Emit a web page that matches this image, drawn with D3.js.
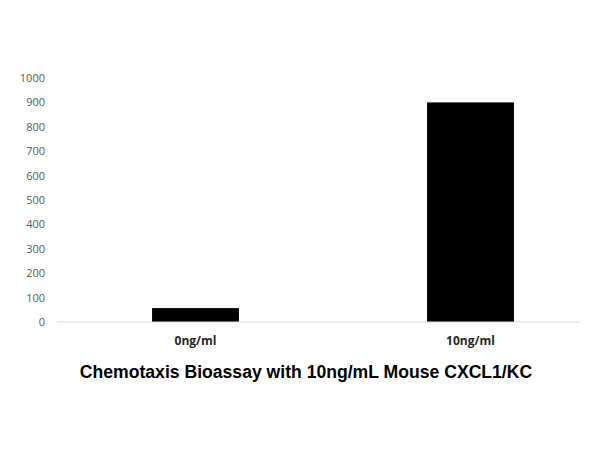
<!DOCTYPE html>
<html lang="en">
<head>
    <meta charset="UTF-8">
    <title>Chemotaxis Bioassay</title>
    <script src="https://cdn.jsdelivr.net/npm/d3@7/dist/d3.min.js"></script>
    <style>
        body, html { margin: 0; padding: 0; background: #fff; overflow: hidden; }
        svg { display: block; }
    </style>
</head>
<body>
    <svg id="mainsvg"></svg>
    <script>
        // data
        const categories = ['0ng/ml', '10ng/ml'];
        const values = [57, 900];
        const yTicks = [0, 100, 200, 300, 400, 500, 600, 700, 800, 900, 1000];
        const title = 'Chemotaxis Bioassay with 10ng/mL Mouse CXCL1/KC';

        const width = 600, height = 450;
        const svg = d3.select('#mainsvg').attr('width', width).attr('height', height);

        // plot area
        const plot = { left: 57, right: 580, top: 78, bottom: 322 };

        const xScale = d3.scaleBand()
            .domain(categories)
            .range([plot.left + 1, 608])
            .paddingInner(0.684)
            .paddingOuter(0.342);

        const yScale = d3.scaleLinear()
            .domain([0, 1000])
            .range([plot.bottom, plot.top]);

        // y axis: labels only, no line
        const yAxis = d3.axisLeft(yScale)
            .tickValues(yTicks)
            .tickFormat(d3.format('d'))
            .tickSize(0)
            .tickPadding(0);
        const yAxisGroup = svg.append('g')
            .attr('transform', `translate(${plot.left - 12}, 0)`)
            .call(yAxis);
        yAxisGroup.select('.domain').remove();
        yAxisGroup.selectAll('text')
            .attr('fill', '#595959')
            .attr('font-family', '"Open Sans", sans-serif')
            .attr('font-size', '11px');

        // bars
        svg.selectAll('rect.bar')
            .data(categories)
            .enter().append('rect')
            .attr('class', 'bar')
            .attr('x', d => xScale(d))
            .attr('width', xScale.bandwidth())
            .attr('y', (d, i) => yScale(values[i]))
            .attr('height', (d, i) => yScale(0) - yScale(values[i]))
            .attr('fill', '#000');

        // baseline
        svg.append('line')
            .attr('x1', plot.left).attr('x2', plot.right)
            .attr('y1', yScale(0)).attr('y2', yScale(0))
            .attr('stroke', '#d9d9d9')
            .attr('stroke-width', 1.2);

        // x labels
        const xAxis = d3.axisBottom(xScale).tickSize(0).tickPadding(14);
        const xAxisGroup = svg.append('g')
            .attr('transform', `translate(0, ${plot.bottom})`)
            .call(xAxis);
        xAxisGroup.select('.domain').remove();
        xAxisGroup.selectAll('text')
            .attr('fill', '#262626')
            .attr('font-family', '"Open Sans", sans-serif')
            .attr('font-weight', 'bold')
            .attr('font-size', '12px');

        // title
        svg.append('text')
            .attr('x', 306)
            .attr('y', 378)
            .attr('text-anchor', 'middle')
            .attr('font-family', '"Liberation Sans", Arial, sans-serif')
            .attr('font-weight', 'bold')
            .attr('font-size', '17.6px')
            .attr('fill', '#000')
            .text(title);
    </script>
</body>
</html>
